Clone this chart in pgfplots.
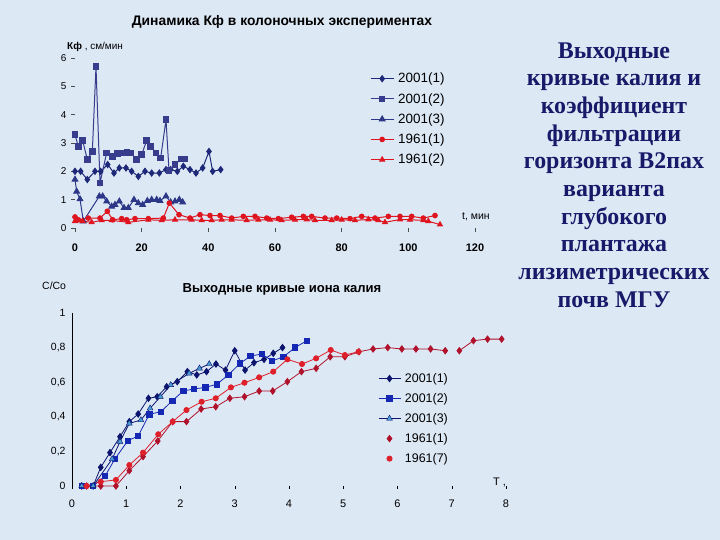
\documentclass[border=0pt]{standalone}
\usepackage{fontspec}
\setmainfont{Liberation Sans}
\newfontfamily\serifb{Liberation Serif}
\usepackage{pgfplots}
\pgfplotsset{compat=1.18}
\pgfplotsset{markonly legend/.style={legend image code/.code={\draw[##1] plot coordinates {(11bp,0bp)};}}}
\definecolor{bg}{RGB}{221,232,245}
\definecolor{tnavy}{RGB}{30,40,120}
\definecolor{tslate}{RGB}{55,60,140}
\definecolor{ttri}{RGB}{45,55,135}
\definecolor{tred}{RGB}{222,20,30}
\definecolor{bnavy}{RGB}{12,20,110}
\definecolor{bblue}{RGB}{20,40,180}
\definecolor{blight}{RGB}{75,155,210}
\definecolor{bdkred}{RGB}{175,18,42}
\definecolor{bred}{RGB}{222,32,42}
\definecolor{txtnavy}{RGB}{25,25,105}
\begin{document}
\begin{tikzpicture}
\useasboundingbox (0,0) rectangle (720bp,540bp);
\fill[bg] (0,0) rectangle (720bp,540bp);

% ---------------- top chart ----------------
\begin{axis}[at={(75bp,312bp)}, anchor=south west, scale only axis,
  width=400bp, height=170bp, xmin=0, xmax=120, ymin=0, ymax=6, clip=false,
  axis lines*=left, axis line style={draw=none},
  xtick={0,20,...,120}, ytick={0,1,...,6},
  tick align=outside, major tick length=4bp, tick style={gray!60!black, thin},
  /pgf/number format/assume math mode=true,
  xticklabel style={font=\bfseries\fontsize{11}{12}\selectfont, yshift=-8bp},
  yticklabel style={font=\fontsize{10}{11}\selectfont, xshift=-1bp},
  legend style={at={(0.73,0.93)}, anchor=north west, draw=none, fill=none,
    font=\fontsize{13.5}{15}\selectfont, row sep=7bp, nodes={inner sep=1bp},
    /tikz/every odd column/.append style={column sep=3bp}},
  legend cell align=left,
  legend image code/.code={\draw[mark repeat=2,mark phase=2,#1] plot coordinates {(0bp,0bp) (11.5bp,0bp) (23bp,0bp)};},
]
\addplot[tnavy, line width=1bp, mark=diamond*, mark size=3bp] coordinates {
(0,2.0)(1.7,2.0)(3.7,1.71)(6,2.0)(7.7,2.0)(9.8,2.24)(11.7,1.94)(13.3,2.12)(15.3,2.12)(17,2.0)(19,1.82)(21,2.0)(23,1.94)(25.3,1.94)(27.3,2.06)(28.7,2.06)(30.7,2.0)(32.5,2.18)(34.5,2.06)(36.3,1.94)(38.3,2.12)(40.2,2.7)(41.3,2.0)(43.7,2.06)};
\addlegendentry{2001(1)}
\addplot[tslate, line width=1bp, mark=square*, mark size=2.8bp] coordinates {
(0,3.29)(1.0,2.88)(2.3,3.09)(3.7,2.41)(5.2,2.7)(6.3,5.7)(7.5,1.59)(9.5,2.65)(11.3,2.53)(12.7,2.62)(14.5,2.65)(15.6,2.66)(16.7,2.65)(18.5,2.41)(20,2.59)(21.5,3.09)(22.7,2.88)(24.3,2.65)(25.7,2.47)(27.3,3.82)(28.2,2.03)(30,2.24)(31.8,2.43)(33,2.43)};
\addlegendentry{2001(2)}
\addplot[ttri, line width=1bp, mark=triangle*, mark size=3.2bp] coordinates {
(0,1.71)(0.5,1.29)(1.5,1.02)(2.5,0.24)(7.3,1.12)(8.3,1.12)(9.5,0.94)(11,0.76)(12,0.82)(13.3,0.94)(14.7,0.71)(16,0.71)(17.7,1.0)(19,0.88)(20.3,0.82)(21.7,0.96)(23,1.0)(24.5,1.0)(25.5,0.96)(27.3,1.12)(28.7,0.91)(30,0.94)(31.3,1.0)(32.3,0.91)};
\addlegendentry{2001(3)}
\addplot[tred, line width=1bp, mark=*, mark size=2.3bp] coordinates {
(0,0.39)(1,0.29)(4,0.35)(7.5,0.35)(9.7,0.59)(11.3,0.29)(14,0.33)(15.5,0.29)(18,0.33)(22,0.33)(26.5,0.35)(28.3,0.88)(31.2,0.47)(34.5,0.35)(37.5,0.47)(40.5,0.44)(43.5,0.44)(47,0.35)(50.5,0.41)(54,0.41)(57.5,0.35)(61,0.33)(65,0.38)(68.5,0.41)(71,0.41)(75,0.35)(78.5,0.35)(82.5,0.33)(86,0.41)(90,0.35)(94,0.41)(97.5,0.41)(101,0.41)(104.5,0.35)(108,0.44)};
\addlegendentry{1961(1)}
\addplot[tred, line width=1bp, mark=triangle*, mark size=2.8bp] coordinates {
(0,0.24)(2.3,0.24)(5,0.2)(8,0.27)(11,0.27)(16,0.2)(22,0.29)(26,0.27)(30,0.29)(35,0.29)(38,0.27)(41,0.27)(44,0.29)(47,0.29)(51.5,0.27)(55,0.29)(58.5,0.29)(62,0.27)(66,0.29)(69.5,0.3)(72,0.27)(77,0.27)(80,0.29)(84,0.27)(88,0.3)(91,0.27)(93,0.2)(97.5,0.3)(100.5,0.29)(104.5,0.27)(106,0.24)(109.5,0.12)};
\addlegendentry{1961(2)}
\end{axis}
\node[font=\bfseries\fontsize{13.9}{15}\selectfont] at (282bp,518bp) {Динамика Кф в колоночных экспериментах};
\node[anchor=west, font=\fontsize{10}{11}\selectfont, inner sep=0pt] at (67bp,493bp) {\textbf{Кф} , см/мин};
\node[anchor=west, font=\fontsize{10.5}{11}\selectfont, inner sep=0pt] at (462bp,323bp) {t, мин};

% ---------------- bottom chart ----------------
\begin{axis}[at={(72bp,54bp)}, anchor=south west, scale only axis,
  width=434bp, height=173bp, xmin=0, xmax=8, ymin=0, ymax=1, clip=false,
  axis x line*=bottom, axis y line*=left,
  x axis line style={draw=none}, y axis line style={black, line width=0.8bp},
  xtick={0,1,...,8}, ytick={0,0.2,0.4,0.6,0.8,1},
  ytick style={draw=none}, xtick style={black, thin},
  tick align=outside, major tick length=3bp,
  /pgf/number format/assume math mode=true,
  /pgf/number format/use comma, /pgf/number format/fixed,
  xticklabel style={font=\fontsize{11}{12}\selectfont, yshift=-7bp},
  yticklabel style={font=\fontsize{10.5}{12}\selectfont},
  unbounded coords=jump,
  legend style={at={(0.698,0.67)}, anchor=north west, draw=none, fill=none,
    font=\fontsize{12.5}{14}\selectfont, row sep=7.5bp, nodes={inner sep=1bp},
    /tikz/every odd column/.append style={column sep=3bp}},
  legend cell align=left,
  legend image code/.code={\draw[mark repeat=2,mark phase=2,#1] plot coordinates {(0bp,0bp) (11bp,0bp) (22bp,0bp)};},
]
\addplot[bnavy, line width=0.8bp, mark=diamond*, mark size=3.2bp] coordinates {
(0.18,0)(0.39,0)(0.53,0.108)(0.70,0.193)(0.885,0.285)(1.057,0.372)(1.22,0.416)(1.41,0.507)(1.57,0.516)(1.745,0.574)(1.94,0.603)(2.126,0.661)(2.30,0.642)(2.48,0.661)(2.654,0.705)(2.83,0.67)(3.0,0.782)(3.19,0.67)(3.355,0.713)(3.54,0.732)(3.71,0.767)(3.88,0.80)};
\addlegendentry{2001(1)}
\addplot[bblue, line width=0.8bp, mark=square*, mark size=2.7bp] coordinates {
(0.18,0)(0.39,0)(0.61,0.058)(0.79,0.156)(1.03,0.262)(1.22,0.289)(1.425,0.414)(1.64,0.43)(1.85,0.493)(2.05,0.549)(2.25,0.561)(2.46,0.57)(2.67,0.588)(2.88,0.642)(3.10,0.709)(3.29,0.751)(3.50,0.763)(3.69,0.723)(3.90,0.747)(4.11,0.80)(4.33,0.84)};
\addlegendentry{2001(2)}
\addplot[bnavy, line width=0.8bp, mark=triangle*, mark size=3.4bp, mark options={fill=blight, draw=bnavy, line width=0.4bp}] coordinates {
(0.18,0)(0.39,0)(0.74,0.156)(0.885,0.256)(1.056,0.362)(1.27,0.381)(1.44,0.449)(1.63,0.516)(1.82,0.584)(2.16,0.651)(2.35,0.68)(2.53,0.705)};
\addlegendentry{2001(3)}
\addplot[bdkred, line width=0.8bp, mark=diamond*, mark size=3.2bp, markonly legend] coordinates {
(0.27,0)(0.53,0)(0.81,0)(1.057,0.089)(1.31,0.17)(1.58,0.26)(1.856,0.372)(2.11,0.372)(2.38,0.445)(2.65,0.458)(2.91,0.507)(3.18,0.516)(3.45,0.549)(3.70,0.549)(3.97,0.603)(4.23,0.661)(4.50,0.68)(4.76,0.747)(5.03,0.747)(5.29,0.776)(5.55,0.792)(5.82,0.80)(6.08,0.792)(6.34,0.792)(6.61,0.792)(6.88,0.782)(7.0,nan)(7.14,0.782)(7.40,0.84)(7.66,0.849)(7.92,0.849)};
\addlegendentry{1961(1)}
\addplot[bred, line width=0.8bp, mark=*, mark size=2.6bp, markonly legend] coordinates {
(0.27,0)(0.53,0.025)(0.81,0.035)(1.057,0.121)(1.31,0.193)(1.59,0.299)(1.856,0.372)(2.11,0.439)(2.39,0.487)(2.65,0.507)(2.93,0.57)(3.18,0.597)(3.45,0.628)(3.71,0.661)(3.97,0.732)(4.24,0.705)(4.50,0.738)(4.77,0.786)(5.03,0.757)(5.28,0.776)};
\addlegendentry{1961(7)}
\end{axis}
\node[font=\bfseries\fontsize{13.1}{15}\selectfont] at (282bp,251bp) {Выходные кривые иона калия};
\node[anchor=west, font=\fontsize{10.5}{12}\selectfont, inner sep=0pt] at (42bp,254bp) {С/Со};
\node[anchor=west, font=\fontsize{11}{12}\selectfont, inner sep=0pt] at (493bp,58bp) {T ,};

% ---------------- right text ----------------
\node[align=center, text=txtnavy, font=\serifb\bfseries\fontsize{24}{27.8}\selectfont] at (614bp,365bp)
{Выходные\\кривые калия и\\коэффициент\\фильтрации\\горизонта В2пах\\варианта\\глубокого\\плантажа\\лизиметрических\\почв МГУ};
\end{tikzpicture}
\end{document}
